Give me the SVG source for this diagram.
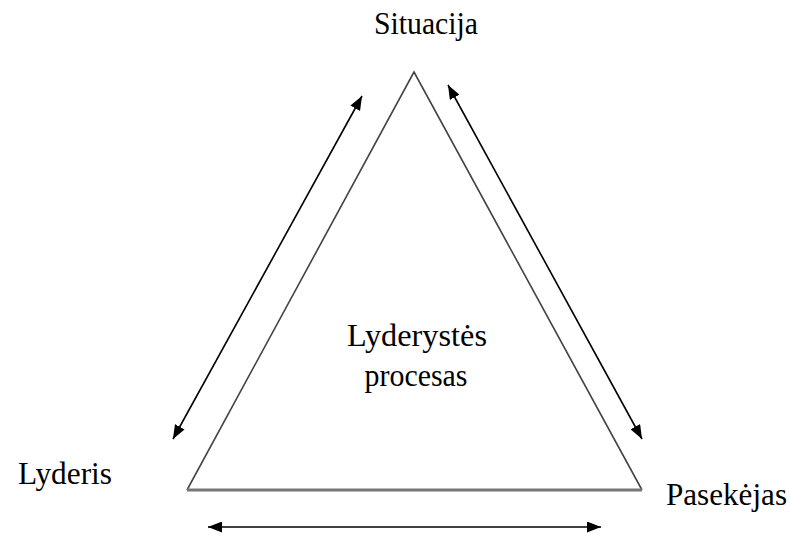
<svg xmlns="http://www.w3.org/2000/svg" width="790" height="538" viewBox="0 0 790 538">
  <defs>
    <marker id="head" viewBox="0 0 14 11" refX="14" refY="5.5" markerWidth="14" markerHeight="11" markerUnits="userSpaceOnUse" orient="auto-start-reverse">
      <path d="M0,0 L14,5.5 L0,11 Z" fill="#000"/>
    </marker>
  </defs>
  <style>
    .lbl { font-family: "Liberation Serif", "Times New Roman", serif; font-size: 31px; fill: #000; }
    .side { fill: none; stroke: #444; stroke-width: 1.6; }
    .base { fill: none; stroke: #777; stroke-width: 3; }
    .conn { fill: none; stroke: #000; stroke-width: 1.6; marker-start: url(#head); marker-end: url(#head); }
  </style>
  <rect width="790" height="538" fill="#fff"/>

  <g id="triangle">
    <polyline class="side" points="187,490 414,72 642,490"/>
    <line class="base" x1="187" y1="490" x2="642" y2="490"/>
  </g>

  <g id="connectors">
    <line class="conn" x1="173" y1="439" x2="362" y2="96"/>
    <line class="conn" x1="448" y1="85" x2="642" y2="439"/>
    <line class="conn" x1="208" y1="527" x2="601" y2="527"/>
  </g>

  <g id="situacija">
    <text class="lbl" x="426" y="34" text-anchor="middle" textLength="104" lengthAdjust="spacingAndGlyphs">Situacija</text>
  </g>
  <g id="lyderis">
    <text class="lbl" x="18" y="484" textLength="94" lengthAdjust="spacingAndGlyphs">Lyderis</text>
  </g>
  <g id="pasekejas">
    <text class="lbl" x="666" y="505" textLength="121" lengthAdjust="spacingAndGlyphs">Pasekėjas</text>
  </g>
  <g id="procesas">
    <text class="lbl" x="417" y="346" text-anchor="middle" textLength="140" lengthAdjust="spacingAndGlyphs">Lyderystės</text>
    <text class="lbl" x="416" y="386" text-anchor="middle" textLength="103" lengthAdjust="spacingAndGlyphs">procesas</text>
  </g>
</svg>
